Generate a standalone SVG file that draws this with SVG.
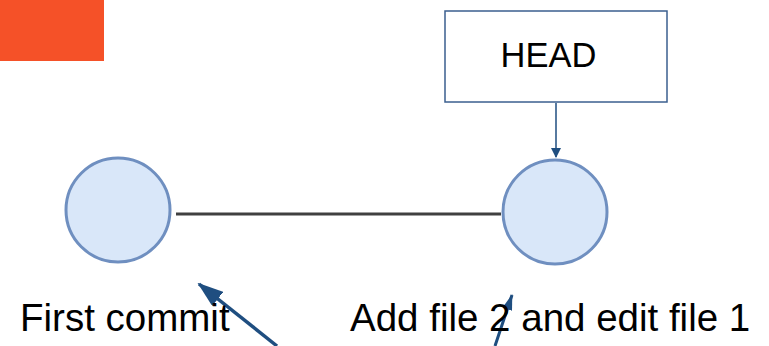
<svg xmlns="http://www.w3.org/2000/svg" width="769" height="346" viewBox="0 0 769 346">
<style>
.commit{fill:#d9e7f9;stroke:#6f8fc0;stroke-width:3}
.lbl{font-family:"Liberation Sans",Arial,sans-serif;fill:#000}
.ptr{stroke:#1f4e80;fill:none}
</style>
<defs>
<marker id="ah" markerWidth="10" markerHeight="10" refX="9" refY="5" orient="auto" markerUnits="userSpaceOnUse"><path d="M0,0 L10,5 L0,10 z" fill="#1f4e80"/></marker>
<marker id="ahBig" markerWidth="26" markerHeight="18" refX="24" refY="9" orient="auto" markerUnits="userSpaceOnUse"><path d="M0,0 L26,9 L0,18 z" fill="#1f4e80"/></marker>
<marker id="ahMid" markerWidth="16" markerHeight="10" refX="15" refY="5" orient="auto" markerUnits="userSpaceOnUse"><path d="M0,0 L16,5 L0,10 z" fill="#1f4e80"/></marker>
</defs>
<rect id="banner" x="0" y="0" width="104" height="61" fill="#f55128"/>
<g id="connectors">
<line x1="176" y1="214" x2="501" y2="214" stroke="#404040" stroke-width="3"/>
<line class="ptr" x1="556" y1="103" x2="556" y2="157" stroke-width="1.5" marker-end="url(#ah)"/>
<line class="ptr" x1="277" y1="346" x2="199" y2="284" stroke-width="3.5" marker-end="url(#ahBig)"/>
<line class="ptr" x1="495" y1="346" x2="512" y2="295" stroke-width="3" marker-end="url(#ahMid)"/>
</g>
<g id="head">
<rect x="445" y="11" width="222" height="91" fill="#fff" stroke="#3b5f8f" stroke-width="1.5"/>
<text class="lbl" x="548.5" y="67" font-size="34.5" text-anchor="middle">HEAD</text>
</g>
<g id="c1">
<circle class="commit" cx="118" cy="210" r="52"/>
</g>
<g id="c2">
<circle class="commit" cx="555" cy="212" r="52"/>
</g>
<text id="t1" class="lbl" x="20" y="331" font-size="38.5">First commit</text>
<text id="t2" class="lbl" x="350" y="331" font-size="38.5">Add file 2 and edit file 1</text>
</svg>
